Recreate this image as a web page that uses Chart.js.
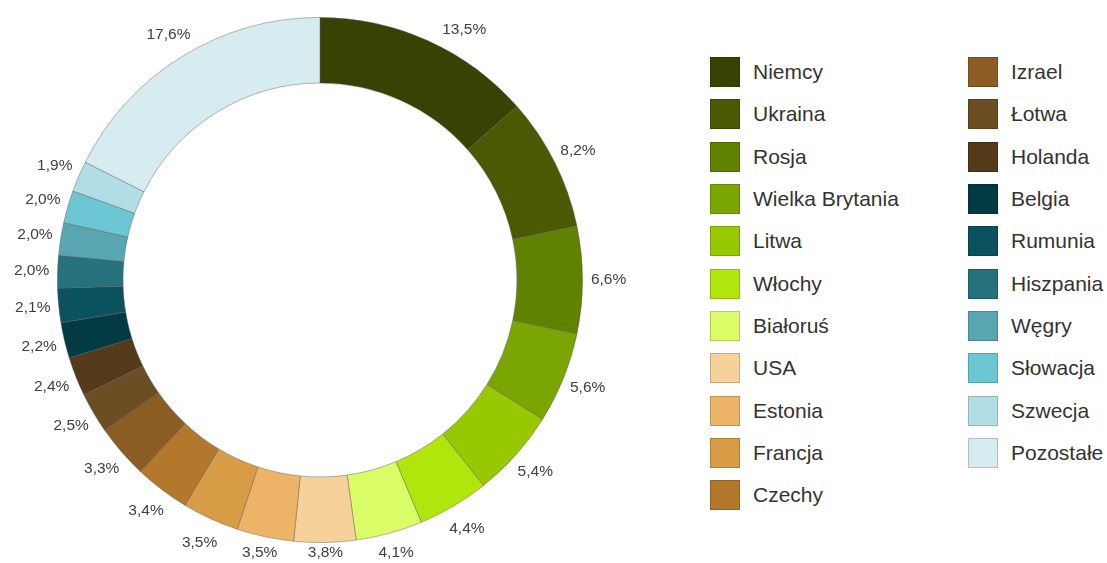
<!DOCTYPE html>
<html>
<head>
<meta charset="utf-8">
<script src="https://cdn.jsdelivr.net/npm/chart.js@4.4.1/dist/chart.umd.min.js"></script>
<style>
  body { margin: 0; background: #fff; width: 1107px; height: 563px; overflow: hidden; position: relative; font-family: "Liberation Sans", Arial, sans-serif; }
  #chartBox { position: absolute; left: 0; top: 0; width: 640px; height: 563px; }
  #legend { position: absolute; left: 710px; top: 51px; display: grid; grid-auto-flow: column; grid-template-rows: repeat(11, 42.3px); grid-template-columns: 258px auto; }
  .item { display: flex; align-items: center; height: 42.3px; }
  .box { width: 30px; height: 30px; box-sizing: border-box; border: 1px solid rgba(0,0,0,0.18); margin-right: 13px; }
  .txt { font-size: 21px; color: #333; }
</style>
</head>
<body>
<div id="chartBox"><canvas id="chart"></canvas></div>
<div id="legend"></div>
<script>
// udział krajów (%)
const countries = ["Niemcy", "Ukraina", "Rosja", "Wielka Brytania", "Litwa", "Włochy", "Białoruś", "USA", "Estonia", "Francja", "Czechy",
  "Izrael", "Łotwa", "Holanda", "Belgia", "Rumunia", "Hiszpania", "Węgry", "Słowacja", "Szwecja", "Pozostałe"];
const shares = [13.5, 8.2, 6.6, 5.6, 5.4, 4.4, 4.1, 3.8, 3.5, 3.5, 3.4,
  3.3, 2.5, 2.4, 2.2, 2.1, 2.0, 2.0, 2.0, 1.9, 17.6];
const colors = ["#394203", "#4b5a02", "#618100", "#7ba501", "#98c800", "#b0e60b", "#dafd67", "#f6d29a", "#edb467", "#d89c46", "#b3782b",
  "#8b5d22", "#6d4d23", "#54391a", "#033b44", "#0a525e", "#25727c", "#58a6b1", "#6cc6d3", "#b3dde6", "#d7ecf1"];

// legend (HTML, two columns)
const legend = document.getElementById("legend");
countries.forEach((name, i) => {
  const item = document.createElement("div");
  item.className = "item";
  const box = document.createElement("span");
  box.className = "box";
  box.style.background = colors[i];
  const txt = document.createElement("span");
  txt.className = "txt";
  txt.textContent = name;
  item.appendChild(box);
  item.appendChild(txt);
  legend.appendChild(item);
});

// percentage labels outside the ring
const outsideLabels = {
  id: "outsideLabels",
  afterDatasetsDraw(chart) {
    const ctx = chart.ctx;
    const meta = chart.getDatasetMeta(0);
    ctx.save();
    ctx.font = "15.5px 'Liberation Sans', Arial, sans-serif";
    ctx.fillStyle = "#404040";
    ctx.textAlign = "center";
    ctx.textBaseline = "middle";
    meta.data.forEach((arc, i) => {
      const p = arc.getProps(["x", "y", "startAngle", "endAngle", "outerRadius"], true);
      const mid = (p.startAngle + p.endAngle) / 2;
      const r = p.outerRadius + 26;
      let x = p.x + Math.cos(mid) * r;
      let y = p.y + Math.sin(mid) * r;
      if (y < 30) {
        y = 30;
        const dx = Math.sqrt(r * r - (p.y - y) * (p.y - y));
        x = p.x + (Math.cos(mid) >= 0 ? dx : -dx);
      }
      if (y > 553) y = 553;
      const text = shares[i].toFixed(1).replace(".", ",") + "%";
      ctx.fillText(text, x, y);
    });
    ctx.restore();
  },
};

new Chart(document.getElementById("chart"), {
  type: "doughnut",
  data: {
    labels: countries,
    datasets: [
      {
        data: shares,
        backgroundColor: colors,
        borderColor: "rgba(90, 90, 90, 0.55)",
        borderWidth: 0.8,
      },
    ],
  },
  options: {
    responsive: true,
    maintainAspectRatio: false,
    animation: false,
    cutout: "75%",
    layout: {
      padding: { left: 57, right: 57, top: 17, bottom: 20 },
    },
    plugins: {
      legend: { display: false },
      tooltip: { enabled: false },
    },
  },
  plugins: [outsideLabels],
});
</script>
</body>
</html>
